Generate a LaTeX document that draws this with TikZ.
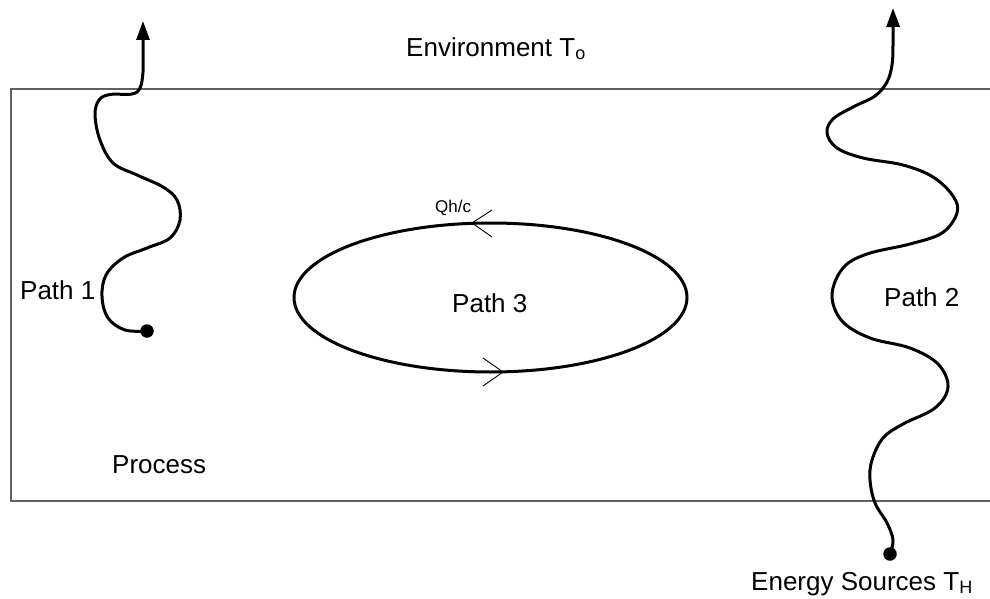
\documentclass[tikz,border=0pt]{standalone}
\usepackage{fontspec}
\setmainfont{Liberation Sans}
\usetikzlibrary{arrows.meta,shapes.geometric}
\newcommand{\lowsub}[1]{\raisebox{-3pt}{\fontsize{18}{18}\selectfont #1}}
\begin{document}
\begin{tikzpicture}[x=1pt,y=-1pt,
  lbl/.style={anchor=base west,inner sep=0pt,font=\fontsize{26}{30}\selectfont},
  small/.style={anchor=base west,inner sep=0pt,font=\fontsize{17}{20}\selectfont},
  wave/.style={line width=3pt,line cap=round,line join=round},
  tipped/.style={-{Triangle[length=19pt,width=13pt]}},
  dot/.style={circle,fill=black,inner sep=0pt,minimum size=13.5pt},
  frame/.style={draw=black!62,line width=1.2pt},
  tick/.style={line width=0.9pt}]
\useasboundingbox (0,0) rectangle (990,599);
\begin{scope}
  \clip (0,0) rectangle (990,599);
  \draw[frame] (11,89) rectangle (1010,501);
\end{scope}

% labels
\node[lbl] (env) at (406,57) {Environment T\lowsub{o}};
\node[lbl] (p1) at (20,299) {Path 1};
\node[lbl] (p2) at (884,306) {Path 2};
\node[lbl] (p3) at (452,312) {Path 3};
\node[lbl] (proc) at (112,473) {Process};
\node[lbl] (src) at (751,590) {Energy Sources T\lowsub{H}};
\node[small] (q) at (435,212) {Qh/c};

% dots and tips
\node[dot] (d1) at (147,331) {};
\node[dot] (d2) at (890,554) {};
\coordinate (t1) at (143,21);
\coordinate (t2) at (893,8);

% path 1
\draw[wave,tipped] plot[smooth,tension=0.6] coordinates {(d1.center) (125,330) (108,318) (102,297) (106,275) (123,258) (147,248) (170,238) (180,220) (177,200) (163,187) (137,175) (113,163) (100,140) (95,115) (99,100) (110,94.5) (132,94) (140,88) (143,72) (143,50) (t1)};

% path 2
\draw[wave,tipped] plot[smooth,tension=0.6] coordinates {(d2.center) (893,540) (887,523) (875,503) (870,480) (872,460) (883,438) (903,424) (935,408) (948,387) (938,364) (910,348) (870,338) (842,321) (832,295) (843,268) (867,254) (910,244) (942,233) (957,213) (953,196) (933,177) (903,165) (863,158) (837,148) (827,133) (833,119) (853,107) (875,96) (887,82) (892,65) (893,45) (t2)};

% path 3 (cycle)
\node[draw,ellipse,line width=3pt,minimum width=393pt,minimum height=149pt,inner sep=0pt] (loop) at (490.5,297.5) {};
\draw[tick] (492,210) -- (472,223) -- (492,237);
\draw[tick] (483,358) -- (503,372) -- (483,386);
\end{tikzpicture}
\end{document}
